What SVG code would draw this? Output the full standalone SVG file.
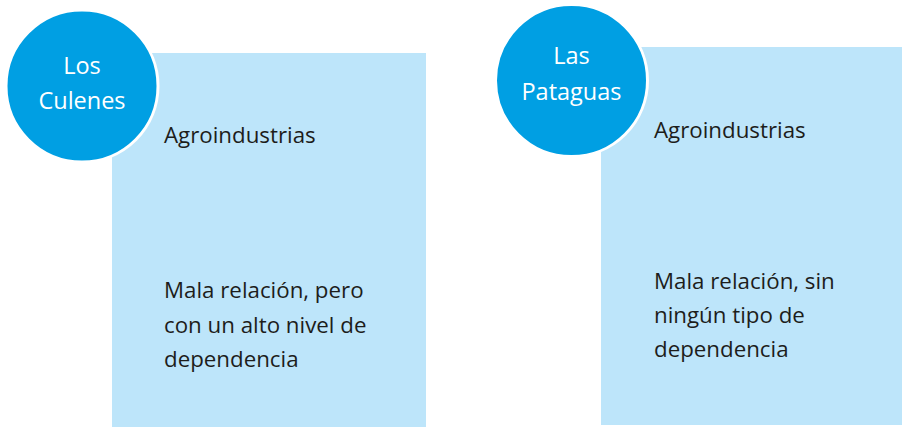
<svg xmlns="http://www.w3.org/2000/svg" width="902" height="427" viewBox="0 0 902 427">
<style>
.box{fill:#BDE5FA}
.circ{fill:#009FE3;stroke:#FFFFFF;stroke-width:3}
.ct{font-family:"Open Sans","Noto Sans",sans-serif;font-size:23.5px;fill:#FFFFFF;text-anchor:middle}
.bt{font-family:"Open Sans","Noto Sans",sans-serif;font-size:22.3px;fill:#1D1D1B}
</style>
<rect width="902" height="427" fill="#FFFFFF"/>
<g id="node-los-culenes">
<rect class="box" x="112" y="53" width="314" height="374"/>
<circle class="circ" cx="82" cy="86" r="76"/>
<text class="ct" x="82" y="74">Los</text>
<text class="ct" x="82" y="109">Culenes</text>
<text class="bt" x="164" y="143">Agroindustrias</text>
<text class="bt" x="164" y="298">Mala relación, pero</text>
<text class="bt" x="164" y="333">con un alto nivel de</text>
<text class="bt" x="164" y="367">dependencia</text>
</g>
<g id="node-las-pataguas">
<rect class="box" x="601" y="47" width="301" height="378"/>
<circle class="circ" cx="571.5" cy="80.5" r="76"/>
<text class="ct" x="571.5" y="64">Las</text>
<text class="ct" x="571.5" y="100">Pataguas</text>
<text class="bt" x="654" y="138">Agroindustrias</text>
<text class="bt" x="654" y="289">Mala relación, sin</text>
<text class="bt" x="654" y="323">ningún tipo de</text>
<text class="bt" x="654" y="357">dependencia</text>
</g>
<g id="connectors"/>
</svg>
